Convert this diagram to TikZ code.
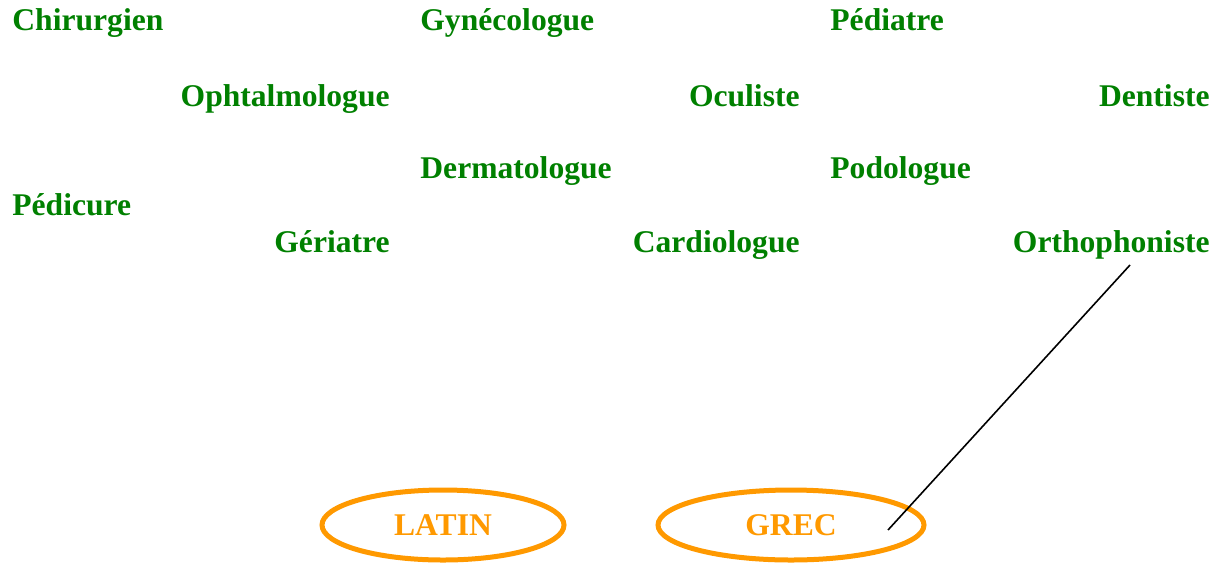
\documentclass[tikz,border=0pt]{standalone}
\usepackage{fontspec}
\setmainfont{Liberation Serif}
\usepackage{xcolor}
\usepackage{tikz}
\usetikzlibrary{shapes.geometric, positioning}
\definecolor{leafgreen}{RGB}{0,128,0}
\definecolor{tangerine}{RGB}{255,153,0}

\begin{document}
\begin{tikzpicture}[
    x=0.5pt, y=-0.5pt,
    term/.style={font=\fontsize{15.8}{19}\selectfont\bfseries, text=leafgreen, inner sep=0pt},
    root/.style={ellipse, draw=tangerine, line width=2.5pt, inner sep=0pt, font=\fontsize{15.8}{19}\selectfont\bfseries, text=tangerine},
    link/.style={black, line width=0.8pt}
]
\useasboundingbox (0,0) rectangle (1224,562);

% First row
\node[term, anchor=base west] (chir) at (12,31) {Chirurgien};
\node[term, anchor=base west] (gyne) at (420,31) {Gynécologue};
\node[term, anchor=base west] (pedi) at (830,31) {Pédiatre};

% Second row
\node[term, anchor=base east] (opht) at (390,106) {Ophtalmologue};
\node[term, anchor=base east] (ocul) at (800,106) {Oculiste};
\node[term, anchor=base east] (dent) at (1210,106) {Dentiste};

% Third row
\node[term, anchor=base west] (derm) at (420,178) {Dermatologue};
\node[term, anchor=base west] (podo) at (830,178) {Podologue};
\node[term, anchor=base west] (pedc) at (12,215) {Pédicure};

% Fourth row
\node[term, anchor=base east] (geri) at (390,252) {Gériatre};
\node[term, anchor=base east] (card) at (800,252) {Cardiologue};
\node[term, anchor=base east] (orth) at (1210,252) {Orthophoniste};

% Origins
\node[root, minimum width=121pt, minimum height=35pt] (latin) at (443,525) {LATIN};
\node[root, minimum width=133pt, minimum height=35pt] (grec) at (791,525) {GREC};

% Link
\coordinate (orthfoot) at (1130,265);
\coordinate (grecend) at (888,530);
\draw[link] (orthfoot) -- (grecend);

\end{tikzpicture}
\end{document}
